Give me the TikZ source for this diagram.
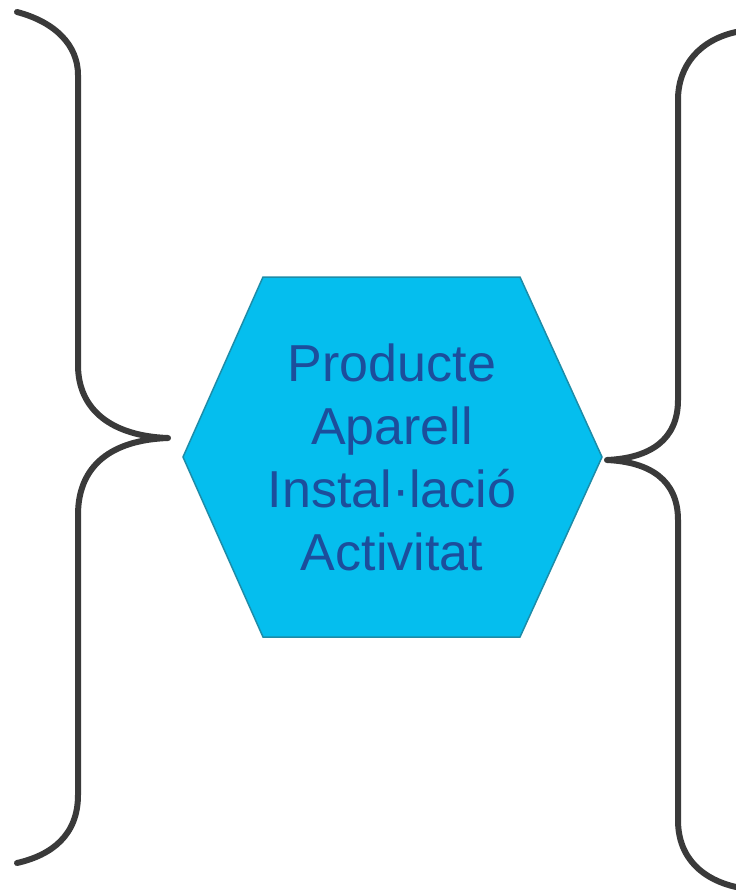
\documentclass[tikz,border=0pt]{standalone}
\usepackage{fontspec}
\usepackage{xcolor}
\usepackage{tikz}
\usetikzlibrary{calc}
\newfontfamily\hexfont{Liberation Sans}
\definecolor{brace}{HTML}{3A3A3A}
\definecolor{hexfill}{HTML}{05BEEE}
\definecolor{hexline}{HTML}{1D8CA8}
\definecolor{ink}{HTML}{1C4E9C}
\tikzset{
  bracket/.style={draw=brace, line width=6pt, line cap=round, line join=round},
  hexa/.style={fill=hexfill, draw=hexline, line width=1.5pt, line join=miter},
  lab/.style={text=ink, align=center, inner sep=0pt, font=\hexfont\fontsize{52}{63}\selectfont},
}

\begin{document}
\begin{tikzpicture}[x=1pt,y=-1pt]
  \useasboundingbox (0,0) rectangle (736,892);
  \coordinate (C) at (392,457);
  % hexagon
  \draw[hexa] ($(C)+(-209,0)$) -- ++(80,-180) -- ++(257,0) -- ++(82,180)
    -- ++(-82,180) -- ++(-257,0) -- cycle;
  \node[lab] (prod) at (C) {Producte\\Aparell\\Instal·lació\\Activitat};
  \coordinate (L) at ($(prod.center)+(-224,-19)$); % left tip
  \coordinate (R) at ($(prod.center)+(215,3)$);    % right tip
  % left brace
  \draw[bracket] (17,12) .. controls (55,22) and (78,45) .. (78,75)
    -- (78,365) .. controls (78,410) and (112,436) .. (L)
    .. controls (112,440) and (78,465) .. (78,515)
    -- (78,795) .. controls (78,835) and (52,855) .. (17,863);
  % right brace
  \draw[bracket] (736,32) .. controls (700,40) and (678,65) .. (678,100)
    -- (678,400) .. controls (678,440) and (650,458) .. (R)
    .. controls (650,462) and (678,480) .. (678,520)
    -- (678,820) .. controls (678,860) and (705,880) .. (736,887);
\end{tikzpicture}
\end{document}
